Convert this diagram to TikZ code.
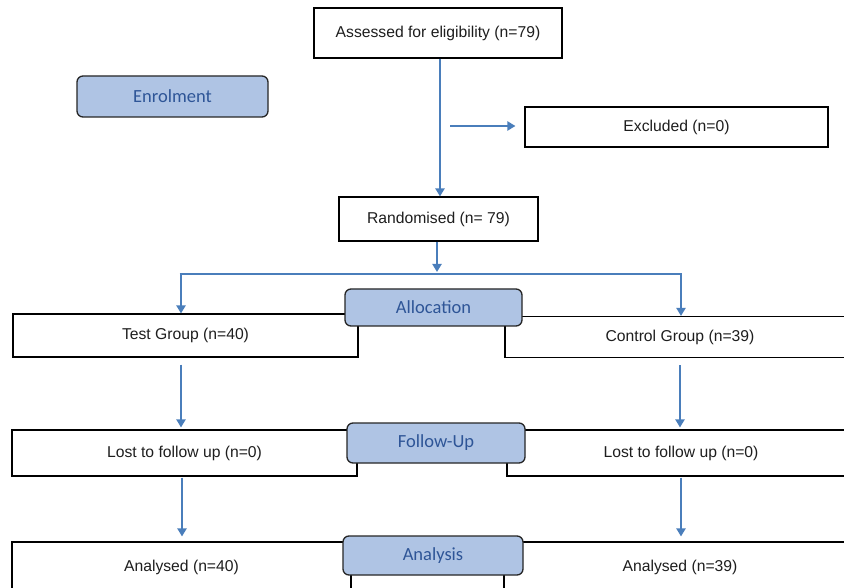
\documentclass[tikz,border=0pt]{standalone}
\usepackage{fontspec}
\setmainfont{Liberation Sans}
\newfontfamily\labelfont{Carlito}
\usetikzlibrary{arrows.meta,calc}
\definecolor{arrowblue}{HTML}{4A7EBB}
\definecolor{labelfill}{HTML}{AFC4E4}
\definecolor{labeltext}{HTML}{2E5597}
\definecolor{boxtext}{HTML}{1E1E1E}
\tikzset{
  x=1pt, y=-1pt,
  flowbox/.style={draw=black, line width=1.1pt, fill=white, inner sep=0pt,
    text=boxtext, font=\fontsize{15.7}{18}\selectfont},
  stagebox/.style={draw=black!85, line width=1.3pt, fill=labelfill, rounded corners=6pt,
    inner sep=0pt, text=labeltext, font=\labelfont\fontsize{18.5}{20}\selectfont},
  arr/.style={draw=arrowblue, line width=2.9pt, -{Triangle[length=8pt,width=9pt]}},
  plainline/.style={draw=arrowblue, line width=2.9pt}
}
\begin{document}
\begin{tikzpicture}
\clip (0,0) rectangle (844,588);
\fill[white] (0,0) rectangle (844,588);
% boxes
\node[flowbox, minimum width=248pt, minimum height=50pt] (assess) at (438,33) {Assessed for eligibility (n=79)};
\node[stagebox, minimum width=191pt, minimum height=41pt] (enrol) at (172.5,96.5) {Enrolment};
\node[flowbox, minimum width=303pt, minimum height=40pt] (excl) at (676.5,127) {Excluded (n=0)};
\node[flowbox, minimum width=199pt, minimum height=44pt] (rand) at (438.5,219) {Randomised (n= 79)};
\node[flowbox, minimum width=345pt, minimum height=43pt] (test) at (185.5,335.5) {Test Group (n=40)};
\node[flowbox, minimum width=350pt, minimum height=41pt] (ctrl) at (680,337) {Control Group (n=39)};
\node[stagebox, minimum width=177pt, minimum height=37pt] (alloc) at (433.5,307.5) {Allocation};
\node[flowbox, minimum width=345pt, minimum height=46pt] (lostl) at (184.5,453) {Lost to follow up (n=0)};
\node[flowbox, minimum width=348pt, minimum height=46pt] (lostr) at (681,453) {Lost to follow up (n=0)};
\node[stagebox, minimum width=178pt, minimum height=40pt] (follow) at (436,443) {Follow-Up};
\node[flowbox, minimum width=339pt, minimum height=50pt] (anal) at (181.5,567) {Analysed (n=40)};
\node[flowbox, minimum width=352pt, minimum height=50pt] (anar) at (680,567) {Analysed (n=39)};
\node[stagebox, minimum width=180pt, minimum height=39pt] (analysis) at (433,555.5) {Analysis};
% connectors
\draw[arr] ([xshift=2pt]assess.south) -- ([xshift=1.5pt]rand.north);
\coordinate (exstart) at (450,126);
\draw[arr, shorten >=9pt] (exstart) -- (exstart -| excl.west);
\coordinate (bl) at (181,274);
\coordinate (br) at (681,274);
\coordinate (bm) at (437,274);
\draw[arr, shorten >=2pt] ([xshift=-1.5pt]rand.south) -- (bm);
\draw[plainline] ([xshift=-1.45pt]bl) -- ([xshift=1.45pt]br);
\draw[arr] (bl) -- (bl |- test.north);
\draw[arr] (br) -- (br |- ctrl.north);
\draw[arr, shorten <=7pt, shorten >=2pt] (bl |- test.south) -- (bl |- lostl.north);
\draw[arr, shorten <=7pt, shorten >=2pt] ([xshift=-1pt]br |- ctrl.south) -- ([xshift=-1pt]br |- lostr.north);
\draw[arr, shorten <=1pt, shorten >=5pt] ([xshift=1pt]bl |- lostl.south) -- ([xshift=1pt]bl |- anal.north);
\draw[arr, shorten <=1pt, shorten >=5pt] (br |- lostr.south) -- (br |- anar.north);
\end{tikzpicture}
\end{document}
